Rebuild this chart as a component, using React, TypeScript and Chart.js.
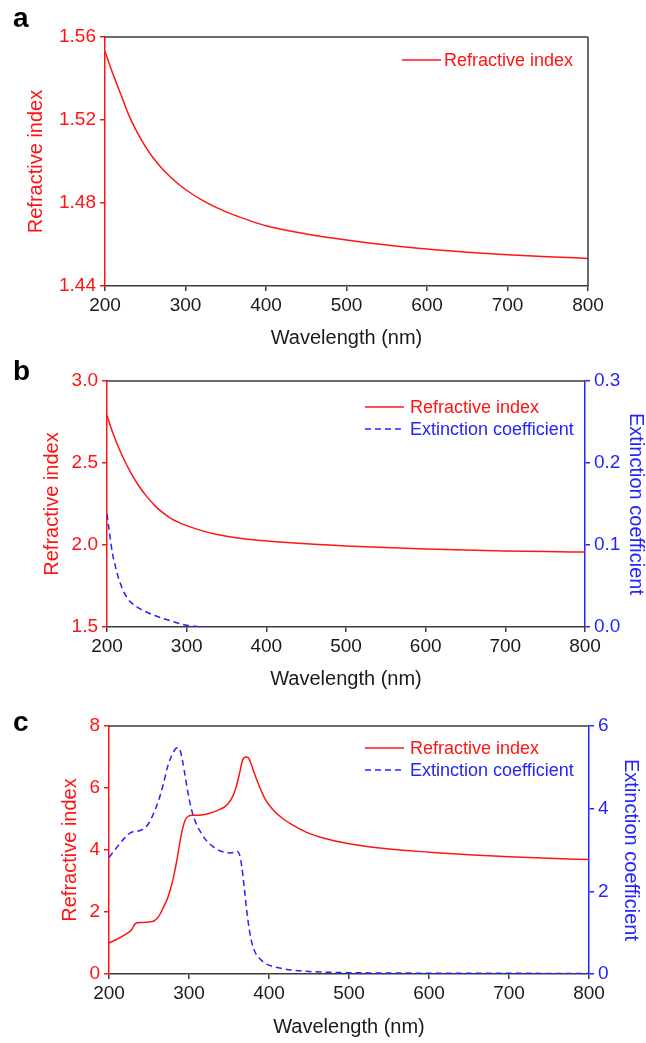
import React, { useEffect, useRef } from 'react';
import { Chart, registerables } from 'chart.js';

Chart.register(...registerables);

const FONT = '"Liberation Sans", Arial, Helvetica, sans-serif';
const RED = '#ff1414';
const BLUE = '#2424ff';
const FRAME = '#3c3c3c';
const TICK_TEXT = '#1a1a1a';
const PAGE_W = 646;

// ---------- data ----------
const wavelengthTicks = [200, 300, 400, 500, 600, 700, 800];

// panel a
const aWavelength = [200, 210, 220, 230, 240, 250, 260, 270, 280, 290, 300, 320, 340, 360, 380, 400, 450, 500, 550, 600, 650, 700, 750, 800];
const aRefractive = [1.553, 1.542, 1.532, 1.522, 1.514, 1.5073, 1.5017, 1.497, 1.493, 1.4895, 1.4865, 1.4815, 1.4775, 1.4743, 1.4715, 1.469, 1.4651, 1.4622, 1.4598, 1.4578, 1.4563, 1.4551, 1.4541, 1.4533];
const aLeftTicks = [1.44, 1.48, 1.52, 1.56];

// panel b
const bWavelengthN = [200, 205, 210, 215, 220, 230, 240, 250, 260, 270, 280, 290, 300, 320, 340, 360, 380, 400, 450, 500, 550, 600, 650, 700, 750, 800];
const bRefractive = [2.79, 2.715, 2.65, 2.59, 2.535, 2.44, 2.36, 2.295, 2.24, 2.197, 2.163, 2.138, 2.118, 2.086, 2.062, 2.046, 2.034, 2.025, 2.007, 1.994, 1.984, 1.976, 1.969, 1.964, 1.96, 1.957];
const bWavelengthK = [200, 203, 207, 210, 214, 220, 225, 230, 240, 250, 260, 270, 280, 290, 300, 310, 320, 330];
const bExtinction = [0.138, 0.116, 0.089, 0.076, 0.061, 0.045, 0.036, 0.03, 0.023, 0.018, 0.014, 0.0105, 0.0075, 0.0045, 0.002, 0.0008, 0.0002, 0];
const bLeftTicks = [1.5, 2.0, 2.5, 3.0];
const bRightTicks = [0, 0.1, 0.2, 0.3];

// panel c
const cWavelengthN = [200, 210, 220, 228, 233, 240, 250, 256, 262, 268, 274, 280, 285, 290, 295, 300, 305, 315, 325, 335, 345, 352, 358, 363, 367, 371, 374, 378, 382, 388, 395, 405, 418, 430, 447, 470, 500, 550, 600, 650, 700, 750, 800];
const cRefractive = [1.0, 1.12, 1.27, 1.42, 1.63, 1.66, 1.68, 1.71, 1.85, 2.15, 2.5, 3.05, 3.7, 4.45, 4.95, 5.1, 5.12, 5.13, 5.18, 5.27, 5.4, 5.6, 5.95, 6.45, 6.9, 7.0, 6.98, 6.75, 6.45, 6.05, 5.65, 5.3, 5.0, 4.8, 4.57, 4.37, 4.2, 4.03, 3.93, 3.85, 3.78, 3.73, 3.69];
const cWavelengthK = [200, 210, 220, 228, 235, 242, 248, 255, 262, 268, 273, 278, 282, 286, 289, 292, 295, 300, 305, 310, 315, 320, 330, 340, 350, 356, 360, 363, 366, 369, 372, 375, 378, 382, 388, 395, 405, 420, 447, 470, 500, 550, 600, 700, 800];
const cExtinction = [2.82, 3.07, 3.3, 3.43, 3.45, 3.5, 3.6, 3.85, 4.2, 4.6, 5.0, 5.27, 5.42, 5.48, 5.4, 5.15, 4.81, 4.25, 3.85, 3.59, 3.42, 3.27, 3.08, 2.97, 2.93, 2.94, 2.97, 2.9, 2.6, 2.1, 1.56, 1.12, 0.8, 0.55, 0.38, 0.26, 0.18, 0.12, 0.064, 0.045, 0.032, 0.024, 0.02, 0.016, 0.014];
const cLeftTicks = [0, 2, 4, 6, 8];
const cRightTicks = [0, 2, 4, 6];

// ---------- panel specs ----------
type Series = { label: string; xs: number[]; ys: number[]; color: string; dash: number[]; axis: 'y' | 'y1' };
type AxisSpec = { min: number; max: number; ticks: number[]; decimals: number; titlePad: number };
type PanelSpec = {
  letter: string;
  letterBaseline: number;
  top: number;
  height: number;
  area: { left: number; right: number; top: number; bottom: number };
  series: Series[];
  left: AxisSpec;
  right?: AxisSpec;
  legend: { x1: number; x2: number; textX: number; ys: number[] };
};

const panels: PanelSpec[] = [
  {
    letter: 'a', letterBaseline: 27, top: 0, height: 350,
    area: { left: 105, right: 588, top: 37, bottom: 286 },
    series: [{ label: 'Refractive index', xs: aWavelength, ys: aRefractive, color: RED, dash: [], axis: 'y' }],
    left: { min: 1.44, max: 1.56, ticks: aLeftTicks, decimals: 2, titlePad: 26 },
    legend: { x1: 402, x2: 441, textX: 444, ys: [60] },
  },
  {
    letter: 'b', letterBaseline: 380, top: 350, height: 341,
    area: { left: 107, right: 585, top: 381, bottom: 627 },
    series: [
      { label: 'Refractive index', xs: bWavelengthN, ys: bRefractive, color: RED, dash: [], axis: 'y' },
      { label: 'Extinction coefficient', xs: bWavelengthK, ys: bExtinction, color: BLUE, dash: [6, 4], axis: 'y1' },
    ],
    left: { min: 1.5, max: 3.0, ticks: bLeftTicks, decimals: 1, titlePad: 42 },
    right: { min: 0, max: 0.3, ticks: bRightTicks, decimals: 1, titlePad: 0 },
    legend: { x1: 365, x2: 404, textX: 410, ys: [407, 429] },
  },
  {
    letter: 'c', letterBaseline: 731, top: 700, height: 339,
    area: { left: 109, right: 589, top: 726, bottom: 974 },
    series: [
      { label: 'Refractive index', xs: cWavelengthN, ys: cRefractive, color: RED, dash: [], axis: 'y' },
      { label: 'Extinction coefficient', xs: cWavelengthK, ys: cExtinction, color: BLUE, dash: [6, 4], axis: 'y1' },
    ],
    left: { min: 0, max: 8, ticks: cLeftTicks, decimals: 0, titlePad: 60 },
    right: { min: 0, max: 6, ticks: cRightTicks, decimals: 0, titlePad: 5 },
    legend: { x1: 365, x2: 404, textX: 410, ys: [748, 770] },
  },
];

function decorPlugin(p: PanelSpec) {
  return {
    id: 'decor' + p.letter,
    afterDatasetsDraw(chart: any) {
      const ctx = chart.ctx as CanvasRenderingContext2D;
      const a = chart.chartArea;
      ctx.save();
      ctx.strokeStyle = FRAME;
      ctx.lineWidth = 1.5;
      ctx.beginPath();
      ctx.moveTo(a.left, a.top);
      ctx.lineTo(a.right, a.top);
      if (!p.right) {
        ctx.moveTo(a.right, a.top);
        ctx.lineTo(a.right, a.bottom);
      }
      ctx.stroke();
      p.series.forEach((s, i) => {
        const y = p.legend.ys[i] - p.top;
        ctx.strokeStyle = s.color;
        ctx.lineWidth = 1.5;
        ctx.setLineDash(s.dash);
        ctx.beginPath();
        ctx.moveTo(p.legend.x1, y);
        ctx.lineTo(p.legend.x2, y);
        ctx.stroke();
        ctx.setLineDash([]);
        ctx.fillStyle = s.color;
        ctx.font = `18px ${FONT}`;
        ctx.textBaseline = 'middle';
        ctx.textAlign = 'left';
        ctx.fillText(s.label, p.legend.textX, y + 1);
      });
      ctx.fillStyle = '#000';
      ctx.font = `bold 28px ${FONT}`;
      ctx.textBaseline = 'alphabetic';
      ctx.textAlign = 'left';
      ctx.fillText(p.letter, 13, p.letterBaseline - p.top);
      ctx.restore();
    },
  };
}

function yAxis(spec: AxisSpec, position: 'left' | 'right', color: string, title: string, width: number) {
  return {
    type: 'linear',
    position,
    min: spec.min,
    max: spec.max,
    afterBuildTicks: (s: any) => {
      s.ticks = spec.ticks.map((v) => ({ value: v }));
    },
    afterFit: (s: any) => {
      s.width = width;
    },
    ticks: {
      color,
      font: { family: FONT, size: 19 },
      padding: 4,
      autoSkip: false,
      callback: (v: any) => Number(v).toFixed(spec.decimals),
    },
    grid: { display: true, drawOnChartArea: false, drawTicks: true, tickLength: 5, color, tickColor: color, lineWidth: 1.5 },
    border: { display: true, color, width: 1.5 },
    title: {
      display: true,
      text: title,
      color,
      font: { family: FONT, size: 20, lineHeight: 1 },
      padding: { top: spec.titlePad, bottom: 0 },
    },
  };
}

function buildConfig(p: PanelSpec): any {
  const relTop = p.area.top - p.top;
  const relBottom = p.area.bottom - p.top;
  const scales: any = {
    x: {
      type: 'linear',
      position: 'bottom',
      min: 200,
      max: 800,
      afterBuildTicks: (s: any) => {
        s.ticks = wavelengthTicks.map((v) => ({ value: v }));
      },
      afterFit: (s: any) => {
        s.height = p.height - relBottom;
      },
      ticks: {
        color: TICK_TEXT,
        font: { family: FONT, size: 19 },
        padding: 3,
        maxRotation: 0,
        autoSkip: false,
        callback: (v: any) => String(v),
      },
      grid: { display: true, drawOnChartArea: false, drawTicks: true, tickLength: 5, color: FRAME, tickColor: FRAME, lineWidth: 1.5 },
      border: { display: true, color: FRAME, width: 1.5 },
      title: {
        display: true,
        text: 'Wavelength (nm)',
        color: TICK_TEXT,
        font: { family: FONT, size: 20, lineHeight: 1 },
        padding: { top: 0, bottom: 2 },
      },
    },
    y: yAxis(p.left, 'left', RED, 'Refractive index', p.area.left),
  };
  if (p.right) {
    scales.y1 = yAxis(p.right, 'right', BLUE, 'Extinction coefficient', PAGE_W - p.area.right);
  }
  return {
    type: 'line',
    data: {
      datasets: p.series.map((s) => ({
        label: s.label,
        data: s.xs.map((x, i) => ({ x, y: s.ys[i] })),
        borderColor: s.color,
        backgroundColor: s.color,
        borderWidth: 1.5,
        borderDash: s.dash,
        pointRadius: 0,
        fill: false,
        cubicInterpolationMode: 'monotone',
        yAxisID: s.axis,
      })),
    },
    options: {
      animation: false,
      responsive: false,
      devicePixelRatio: 1,
      layout: {
        padding: { top: relTop, left: 0, bottom: 0, right: p.right ? 0 : PAGE_W - p.area.right },
      },
      plugins: { legend: { display: false }, tooltip: { enabled: false }, title: { display: false } },
      scales,
    },
    plugins: [decorPlugin(p)],
  };
}

function Panel({ spec }: { spec: PanelSpec }) {
  const ref = useRef<HTMLCanvasElement | null>(null);
  useEffect(() => {
    if (!ref.current) return;
    const chart = new Chart(ref.current, buildConfig(spec));
    return () => chart.destroy();
  }, [spec]);
  return (
    <canvas
      ref={ref}
      width={PAGE_W}
      height={spec.height}
      style={{ position: 'absolute', left: 0, top: spec.top, width: PAGE_W, height: spec.height, display: 'block' }}
    />
  );
}

export default function App() {
  return (
    <div style={{ position: 'absolute', left: 0, top: 0, width: PAGE_W, height: 1043, background: '#fff' }}>
      {panels.map((p) => (
        <Panel key={p.letter} spec={p} />
      ))}
    </div>
  );
}
